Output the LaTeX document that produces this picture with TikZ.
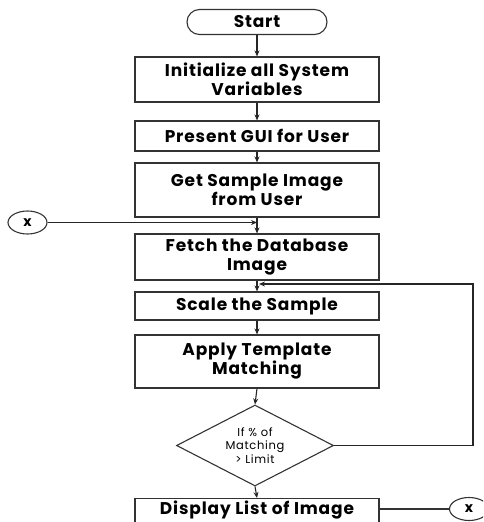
\documentclass[tikz,border=0pt]{standalone}
\usepackage{fontspec}
\setmainfont{Poppins}
\usetikzlibrary{shapes.geometric,arrows.meta,calc}
\begin{document}
\begin{tikzpicture}[x=1pt,y=-1pt,
  line width=1.1pt,
  every node/.style={font=\fontsize{17}{19}\selectfont\bfseries\addfontfeatures{LetterSpace=5}, text=black},
  proc/.style={draw=black!80, rectangle, minimum width=244pt, inner sep=1pt, align=center},
  term/.style={draw=black!80, rectangle, rounded corners=12.5pt, minimum width=140pt, minimum height=25pt, inner sep=0pt},
  conn/.style={draw=black!80, ellipse, minimum width=39pt, minimum height=23pt, inner sep=0pt, font=\fontsize{14}{16}\selectfont\bfseries},
  dec/.style={draw=black!80, diamond, aspect=2, minimum width=157pt, minimum height=81pt, inner sep=0pt, align=center, font=\fontsize{11.5}{13.5}\selectfont\addfontfeatures{LetterSpace=6}},
  arr/.style={draw=black!85, -{Stealth[length=6pt,width=5pt]}},
  ln/.style={draw=black!80}
]
\useasboundingbox (0,0) rectangle (483,522);
\clip (0,0) rectangle (483,522);
\fill[white] (0,0) rectangle (483,522);

\node[term] (start) at (257,22) {Start};
\node[proc, minimum height=45pt] (b1) at (257,79.5) {Initialize all System\\Variables};
\node[proc, minimum height=30pt] (b2) at (257,136) {Present GUI for User};
\node[proc, minimum height=54pt] (b3) at (257,190) {Get Sample Image\\from User};
\node[proc, minimum height=46pt] (b4) at (257,257) {Fetch the Database\\Image};
\node[proc, minimum height=28pt] (b5) at (257,306) {Scale the Sample};
\node[proc, minimum height=53pt] (b6) at (257,361.5) {Apply Template\\Matching};
\node[dec] (d) at (255,445.5) {If \% of\\Matching\\> Limit};
\node[proc, anchor=north, inner ysep=2pt, text depth=22pt] (b7) at (257,498) {Display List of Image};
\node[conn] (xl) at (27.5,222.5) {x};
\node[conn] (xr) at (469,509) {x};

\coordinate (j1) at (257,222.5);
\coordinate (j2) at (259,284);
\coordinate (r1) at (473,284);

\draw[arr] (start) -- (b1);
\draw[arr] (b1) -- (b2);
\draw[arr] (b2) -- (b3);
\draw[arr] (b3.south) -- (b4.north);
\draw[arr] (xl.east) -- (j1);
\draw[arr] (b4) -- (b5);
\draw[arr] (b5) -- (b6);
\draw[arr] (b6.south) -- (d.north);
\draw[arr] (d.south) -- (b7.north);
\draw[arr] (d.east) -| (r1) -- (j2);
\draw[ln] (b7.east |- xr.west) -- (xr.west);
\end{tikzpicture}
\end{document}
